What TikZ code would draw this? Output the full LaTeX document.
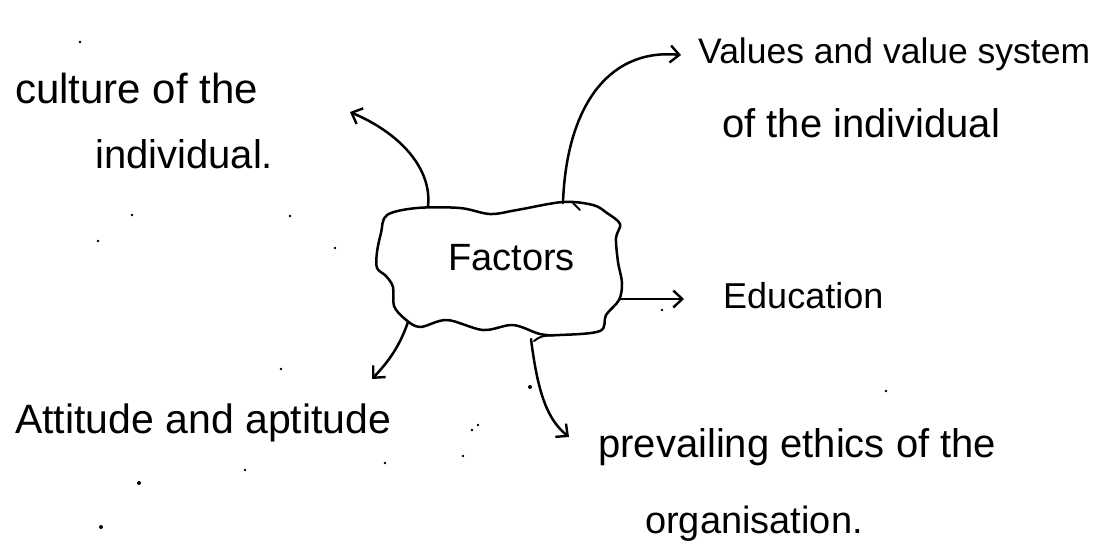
\documentclass[tikz,border=0pt]{standalone}
\usepackage{fontspec}
\setmainfont{Liberation Sans}
\usetikzlibrary{arrows.meta}
\begin{document}
\begin{tikzpicture}[x=1pt,y=-1pt,
  pen/.style={line width=2.5pt, line cap=round, line join=round},
  link/.style={pen, -{Straight Barb[length=9pt,width=17pt,line width=2.4pt]}},
  lbl/.style={inner sep=0pt, anchor=base west},
  hand/.style={font=\fontsize{#1}{#1}\selectfont}]
\fill[white] (0,0) rectangle (1103,547);
\useasboundingbox (0,0) rectangle (1103,547);

% wobbly outline around the central word
\draw[pen] plot[smooth cycle, tension=0.55] coordinates {
  (387,215) (417,208) (460,208) (490,214) (517,210) (563,202) (593,205)
  (607,213) (620,224) (616,238) (618,262) (622,283) (619,300) (606,315)
  (600,331) (560,335) (540,334) (513,325) (483,330) (447,320) (420,327)
  (405,319) (394,306) (393,287) (386,276) (377,268) (377,252) (381,233)};
\draw[pen, line width=2pt] (573,203) -- (580,210);
\draw[pen, line width=2pt] (534,341) .. controls (541,336) .. (556,335);

% labels
\node[lbl, hand=38] (factors) at (448,270) {Factors};
\node[lbl, hand=42] (culture) at (15,103) {culture of the};
\node[lbl, hand=40] (culture2) at (95,168) {individual.};
\node[lbl, hand=35.5] (values) at (698,63) {Values and value system};
\node[lbl, hand=40] (values2) at (722,137) {of the individual};
\node[lbl, hand=36] (education) at (723,308) {Education};
\node[lbl, hand=41] (attitude) at (15,433) {Attitude and aptitude};
\node[lbl, hand=40] (prevailing) at (598,457) {prevailing ethics of the};
\node[lbl, hand=38] (prevailing2) at (645,533) {organisation.};

% arrow ends on the outline and beside the labels
\coordinate (fNW) at (428,206);
\coordinate (fN) at (563,203);
\coordinate (fE) at (620,299);
\coordinate (fSW) at (408,322);
\coordinate (fS) at (531,339);
\coordinate (tCult) at (350,112);
\coordinate (tVal) at (681,55);
\coordinate (tEdu) at (684,299);
\coordinate (tAtt) at (372,379);
\coordinate (tPrev) at (569,437);

\draw[link] (fNW) .. controls (432,170) and (402,134) .. (tCult);
\draw[link] (fN) .. controls (566,112) and (605,48) .. (tVal);
\draw[link] (fE) -- (tEdu);
\draw[link] (fSW) .. controls (400,345) and (390,360) .. (tAtt);
\draw[link] (fS) .. controls (538,395) and (548,420) .. (tPrev);

% stray pen marks
\foreach \p in {(80,42),(132,215),(290,216),(98,241),(335,248),(281,369),
  (478,425),(472,430),(463,456),(385,463),(245,470),(662,310),(886,391)}
  \fill \p circle (1.3pt);
\foreach \p in {(530,387),(139,483),(101,527)}
  \fill \p circle (2pt);
\end{tikzpicture}
\end{document}
